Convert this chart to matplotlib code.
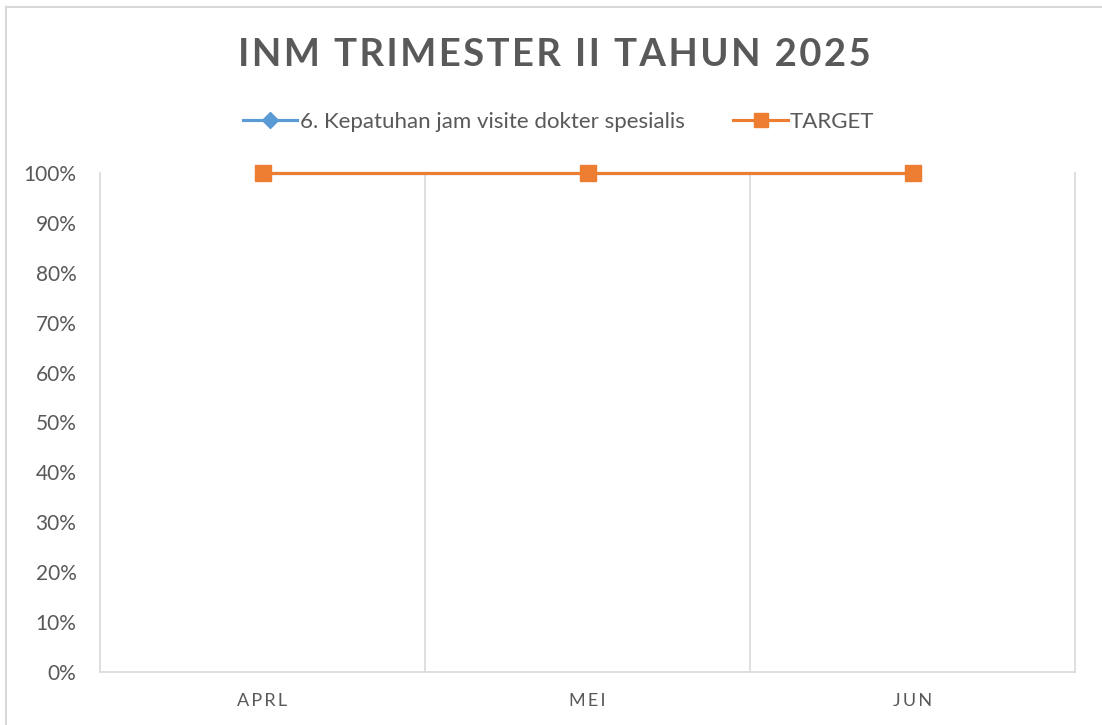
import matplotlib
matplotlib.use("Agg")
import matplotlib.pyplot as plt
from matplotlib.ticker import PercentFormatter
from matplotlib.lines import Line2D

months = ["APRL", "MEI", "JUN"]
kepatuhan = [1.0, 1.0, 1.0]
target = [1.0, 1.0, 1.0]
title = "INM TRIMESTER II TAHUN 2025"
series_names = ["6. Kepatuhan jam visite dokter spesialis", "TARGET"]

plt.rcParams['font.family'] = ['Lato', 'DejaVu Sans']

fig = plt.figure(figsize=(11.02, 7.25), dpi=100)
ax = fig.add_axes([100 / 1102, 1 - 672 / 725, 975 / 1102, 499 / 725])

x = range(len(months))
ax.plot(x, kepatuhan, color="#5B9BD5", lw=2.25, marker="D", ms=7, zorder=3,
        clip_on=False, label=series_names[0])
ax.plot(x, target, color="#ED7D31", lw=2.25, marker="s", ms=11.5, zorder=4,
        clip_on=False, label=series_names[1])

ax.set_xlim(-0.5, len(months) - 0.5)
ax.set_ylim(0, 1)
ax.set_yticks([i / 10 for i in range(11)])
ax.yaxis.set_major_formatter(PercentFormatter(1.0, decimals=0))
ax.set_xticks(list(x))
ax.set_xticklabels(["\u2009".join(m) for m in months])
for b in [i + 0.5 for i in range(len(months) - 1)]:
    ax.axvline(b, color="#D9D9D9", lw=1.2, zorder=1)

ax.spines["top"].set_visible(False)
for s in ["left", "right", "bottom"]:
    ax.spines[s].set_color("#D9D9D9")
    ax.spines[s].set_linewidth(1.2)
ax.tick_params(length=0, labelcolor="#595959")
ax.tick_params(axis="y", pad=17, labelsize=15)
ax.tick_params(axis="x", pad=15, labelsize=13)

fig.text(0.503, 1 - 55 / 725, "\u200a".join(title), ha="center", va="center",
         fontsize=27.5, fontweight="bold", color="#595959")

handles = [Line2D([], [], color="#5B9BD5", lw=2.25, marker="D", ms=8),
           Line2D([], [], color="#ED7D31", lw=2.25, marker="s", ms=9.5)]
fig.legend(handles, series_names,
           loc="center", bbox_to_anchor=(0.507, 1 - 122 / 725), ncol=2, frameon=False,
           fontsize=16, labelcolor="#595959", handlelength=2.45, columnspacing=2.2,
           handletextpad=0.1)

# outer chart border (left and top visible)
fig.add_artist(Line2D([6 / 1102, 6 / 1102], [0, 1 - 7 / 725], transform=fig.transFigure,
                      color="#D9D9D9", lw=1.5))
fig.add_artist(Line2D([6 / 1102, 1], [1 - 7 / 725, 1 - 7 / 725], transform=fig.transFigure,
                      color="#D9D9D9", lw=1.5))

fig.savefig("out.png", dpi=100)
